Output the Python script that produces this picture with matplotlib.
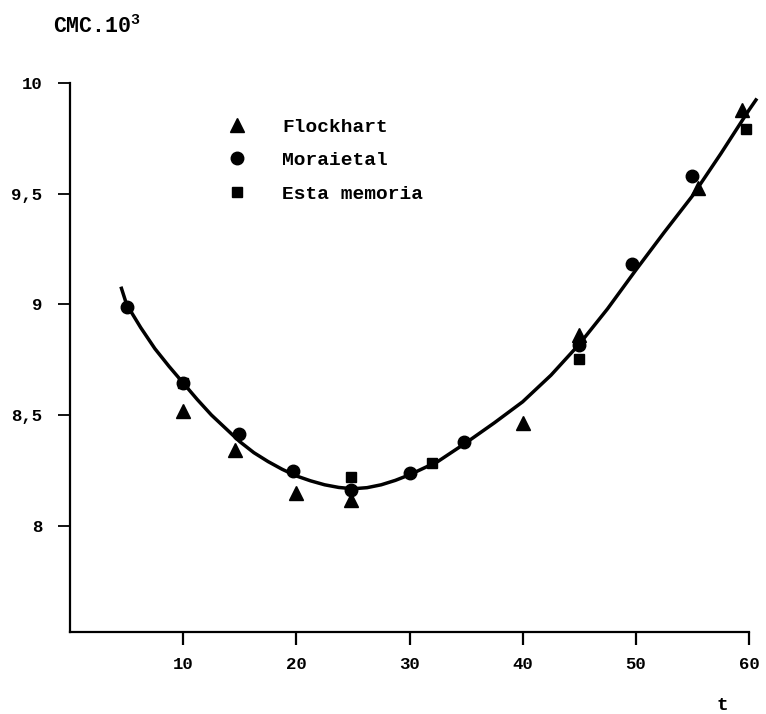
import numpy as np
import matplotlib
matplotlib.use("Agg")
import matplotlib.pyplot as plt

# valores (t, CMC.10^3)
flock_t = [10, 14.6, 20, 24.8, 40, 45, 55.5, 59.4]
flock_cmc = [8.52, 8.343, 8.149, 8.117, 8.465, 8.862, 9.526, 9.878]

morai_t = [5, 10, 14.9, 19.7, 24.8, 30, 34.8, 45, 49.7, 55]
morai_cmc = [8.99, 8.645, 8.415, 8.248, 8.163, 8.239, 8.379, 8.817, 9.183, 9.58]

esta_t = [10, 24.8, 32, 45, 59.7]
esta_cmc = [8.645, 8.221, 8.284, 8.754, 9.79]

# curva ajustada (leida punto a punto)
curva_t = [4.5, 5, 6.25, 7.5, 8.75, 10, 11.25, 12.5, 13.75, 15, 16.25, 17.5,
           18.75, 20, 21.25, 22.5, 23.75, 25, 26.25, 27.5, 28.75, 30, 32.5,
           35, 37.5, 40, 42.5, 45, 47.5, 50, 52.5, 55, 57.5, 60, 60.7]
curva_cmc = [9.08, 9.0, 8.895, 8.80, 8.72, 8.645, 8.57, 8.50, 8.44, 8.38,
             8.33, 8.29, 8.255, 8.225, 8.203, 8.185, 8.173, 8.167, 8.172,
             8.185, 8.205, 8.23, 8.29, 8.375, 8.465, 8.56, 8.68, 8.82, 8.98,
             9.155, 9.325, 9.49, 9.68, 9.878, 9.93]

x_ticks = [10, 20, 30, 40, 50, 60]
y_ticks = [8, 8.5, 9, 9.5, 10]
y_labels = ["8", "8,5", "9", "9,5", "10"]

plt.rcParams['font.family'] = ['Liberation Mono', 'DejaVu Sans']
plt.rcParams['font.weight'] = 'bold'
plt.rcParams['mathtext.fontset'] = 'custom'
plt.rcParams['mathtext.rm'] = 'Liberation Mono:bold'

fig = plt.figure(figsize=(7.66, 7.14), dpi=100)
ax = fig.add_axes([70 / 766, 82 / 714, 679 / 766, 549 / 714])

ax.plot(curva_t, curva_cmc, color='black', lw=2.5, clip_on=False,
        solid_capstyle='butt', solid_joinstyle='round')
ax.plot(flock_t, flock_cmc, '^', color='black', ms=10, ls='none',
        label='Flockhart', clip_on=False)
ax.plot(morai_t, morai_cmc, 'o', color='black', ms=9, ls='none',
        label='Moraietal', clip_on=False)
ax.plot(esta_t, esta_cmc, 's', color='black', ms=7.5, ls='none',
        label='Esta memoria', clip_on=False)

ax.set_xlim(0, 60)
ax.set_ylim(7.52, 10)
for s in ['top', 'right']:
    ax.spines[s].set_visible(False)
ax.spines['left'].set_linewidth(1.6)
ax.spines['bottom'].set_linewidth(1.6)

ax.set_xticks(x_ticks)
ax.set_xticklabels([str(v) for v in x_ticks])
ax.set_yticks(y_ticks)
ax.set_yticklabels(y_labels)
ax.tick_params(axis='x', direction='out', length=9, width=1.6, pad=9,
               labelsize=12.5)
ax.tick_params(axis='y', direction='out', length=9, width=1.3, pad=11,
               labelsize=12.5)

fig.text(53 / 766, 1 - 33 / 714, 'CMC.10$^{3}$', fontsize=15.5,
         ha='left', va='baseline')
fig.text(722 / 766, 1 - 705 / 714, 't', fontsize=14, ha='center',
         va='center')

ax.legend(loc='upper left', bbox_to_anchor=(0.232, 0.936), frameon=False,
          fontsize=14, borderpad=0, borderaxespad=0, handlelength=1.0,
          handletextpad=1.8, labelspacing=0.82, numpoints=1)

plt.savefig('out.png', dpi=100)
